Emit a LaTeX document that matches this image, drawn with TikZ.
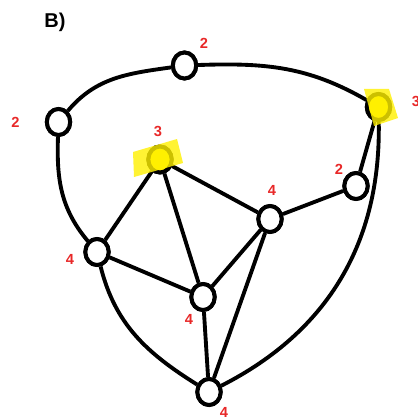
\documentclass[tikz,border=0pt]{standalone}
\usepackage{fontspec}
\setmainfont{Liberation Sans}
\usetikzlibrary{shapes.geometric}
\definecolor{lblred}{RGB}{232,40,40}
\definecolor{hiyellow}{RGB}{255,240,0}
\begin{document}
\begin{tikzpicture}[x=0.75pt,y=-0.75pt,
  vert/.style={draw=black,line width=3pt,fill=white,ellipse,inner sep=0pt,minimum width=17.5pt,minimum height=19.5pt},
  edge/.style={draw=black,line width=2.9pt},
  lbl/.style={text=lblred,font=\fontsize{11}{11}\selectfont\bfseries,inner sep=0pt},
  hilite/.style={fill=hiyellow,fill opacity=0.8,draw=none}]
\useasboundingbox (0,0) rectangle (417,420);
% vertices
\node[vert] (T) at (184.5,65.5) {};
\node[vert] (L) at (58.5,122) {};
\node[vert] (Y1) at (160,159.5) {};
\node[vert] (Y2) at (378.5,107) {};
\node[vert] (R2) at (356,186) {};
\node[vert] (C4) at (270,219) {};
\node[vert] (LL) at (97,252) {};
\node[vert] (M) at (203,297) {};
\node[vert] (B) at (209,392) {};
% edges
\draw[edge] (L) to[out=50,in=188] (T);
\draw[edge] (T) to[out=2,in=150] (Y2);
\draw[edge] (L) to[out=-92,in=130] (LL);
\draw[edge] (LL) to[out=-76,in=148] (B);
\draw[edge] (Y2) to[out=-89,in=27] (B);
\draw[edge] (Y1) -- (LL);
\draw[edge] (Y1) -- (M);
\draw[edge] (Y1) -- (C4);
\draw[edge] (LL) -- (M);
\draw[edge] (M) -- (C4);
\draw[edge] (M) -- (B);
\draw[edge] (C4) -- (B);
\draw[edge] (C4) -- (R2);
\draw[edge] (R2) -- (Y2);
% redraw vertices on top
\node[vert] at (T) {};
\node[vert] at (L) {};
\node[vert,fill=hiyellow] at (Y1) {};
\node[vert,fill=hiyellow] at (Y2) {};
\node[vert] at (R2) {};
\node[vert] at (C4) {};
\node[vert] at (LL) {};
\node[vert] at (M) {};
\node[vert] at (B) {};
% highlights
\path[hilite] (133,152) -- (177,139) -- (183,163) -- (134,177) -- cycle;
\path[hilite] (364,89) -- (389,89) -- (398,118) -- (374,126) -- cycle;
% labels
\node[font=\fontsize{15}{15}\selectfont\bfseries,inner sep=0pt] (title) at (55,22) {B)};
\node[lbl] (lT) at (204,43) {2};
\node[lbl] (lL) at (15.5,122) {2};
\node[lbl] (lY1) at (158,131.5) {3};
\node[lbl] (lY2) at (416,101) {3};
\node[lbl] (lR2) at (339,169) {2};
\node[lbl] (lC4) at (272,190) {4};
\node[lbl] (lM) at (189,319) {4};
\node[lbl] (lLL) at (70,259) {4};
\node[lbl] (lB) at (224,412.5) {4};
\end{tikzpicture}
\end{document}
